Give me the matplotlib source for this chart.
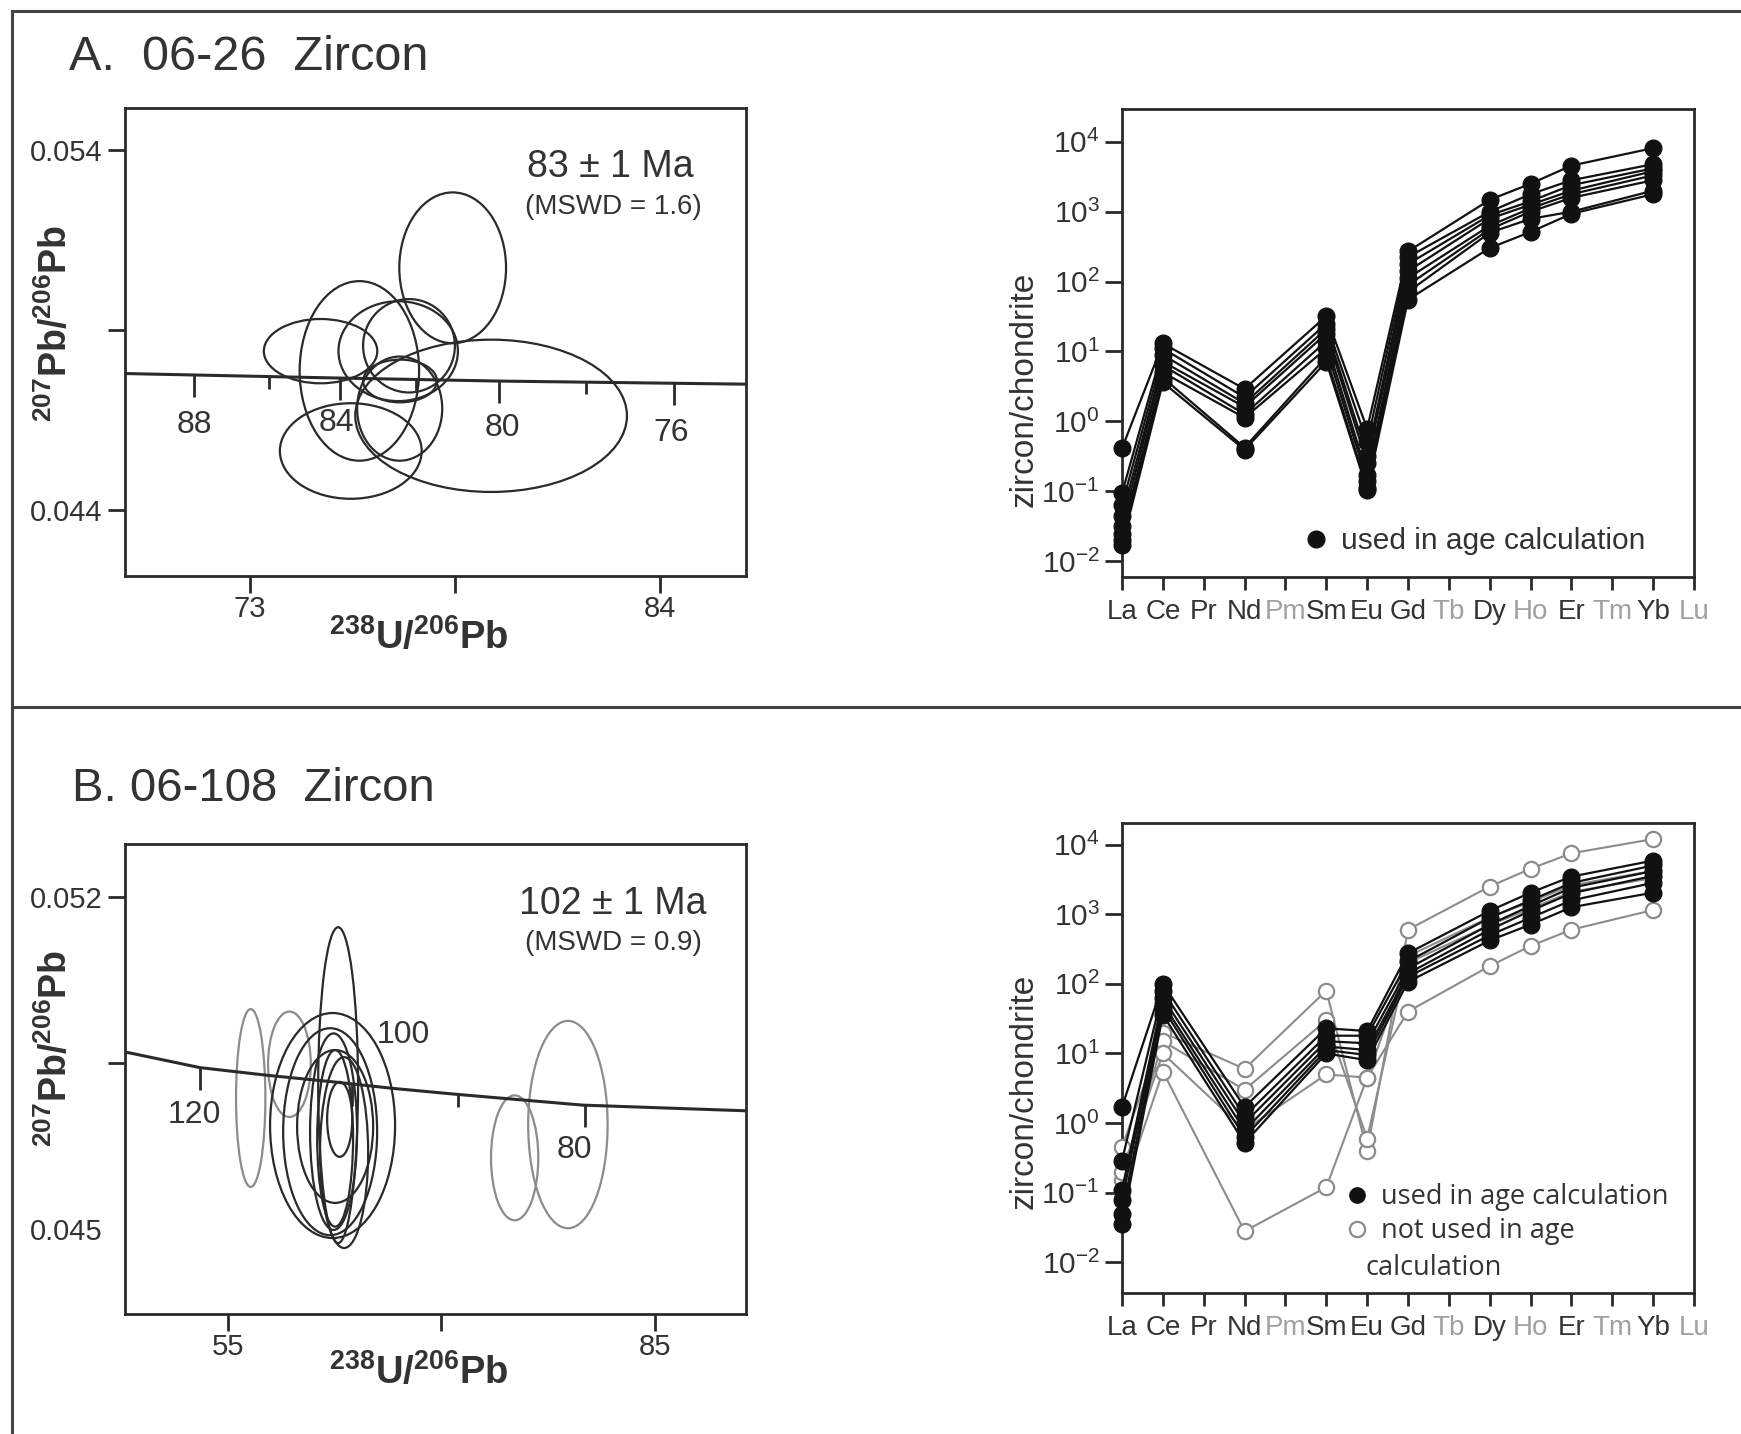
import matplotlib.pyplot as plt
from matplotlib.patches import Ellipse
from matplotlib.lines import Line2D

plt.rcParams['font.family'] = ['Liberation Sans', 'DejaVu Sans']
plt.rcParams['mathtext.fontset'] = 'custom'
plt.rcParams['mathtext.rm'] = 'Liberation Sans'
plt.rcParams['mathtext.bf'] = 'Liberation Sans:bold'
plt.rcParams['mathtext.it'] = 'Liberation Sans:italic'

# ---------------- data ----------------
# panel A, 06-26 : Tera-Wasserburg ellipses (centre, half-widths)
a_ell_x = [78.44, 74.90, 75.94, 76.98, 77.27, 79.47, 75.71, 77.02, 77.03]
a_ell_y = [0.05073, 0.04841, 0.04786, 0.04841, 0.04856, 0.04661, 0.04563, 0.04681, 0.04758]
a_ell_sx = [1.43, 1.52, 1.60, 1.60, 1.23, 3.64, 1.90, 1.14, 0.99]
a_ell_sy = [0.0021, 0.000895, 0.0025, 0.00139, 0.0013, 0.00212, 0.00133, 0.00145, 0.000595]
a_conc_x = [69.66, 75.23, 79.69, 86.3]
a_conc_y = [0.047787, 0.047665, 0.047577, 0.047491]
a_tick_age = [88, 86, 84, 82, 80, 78, 76]
a_tick_x = [71.51, 73.52, 75.41, 77.46, 79.69, 82.0, 84.38]
a_tick_y = [0.047746, 0.0477, 0.047661, 0.04762, 0.047577, 0.047547, 0.047516]
a_tick_major = [True, False, True, False, True, False, True]

# panel B, 06-108
b_used_x = [62.76, 62.37, 62.20, 62.55, 62.44, 63.18, 62.87, 62.55]
b_used_y = [0.04803, 0.04718, 0.04705, 0.04716, 0.04705, 0.04661, 0.04731, 0.04691]
b_used_sx = [1.40, 4.39, 3.30, 2.67, 1.65, 1.69, 0.88, 1.26]
b_used_sy = [0.003327, 0.00237, 0.00218, 0.00161, 0.00207, 0.00201, 0.00079, 0.00186]
b_rej_x = [56.62, 59.34, 75.16, 78.90]
b_rej_y = [0.04776, 0.04847, 0.04650, 0.04720]
b_rej_sx = [1.03, 1.50, 1.66, 2.79]
b_rej_sy = [0.001873, 0.00111, 0.001316, 0.002184]
b_conc_x = [47.79, 53.05, 57.72, 62.40, 66.69, 70.97, 79.93, 91.43]
b_conc_y = [0.04873, 0.04840, 0.04824, 0.04810, 0.04796, 0.04784, 0.04761, 0.04749]
b_tick_age = [120, 100, 90, 80]
b_tick_x = [53.05, 63.7, 71.17, 80.13]
b_tick_y = [0.0484, 0.04806, 0.04783, 0.04761]
b_tick_major = [True, True, False, True]

# REE patterns (chondrite normalised)
elements = ['La', 'Ce', 'Pr', 'Nd', 'Pm', 'Sm', 'Eu', 'Gd', 'Tb', 'Dy', 'Ho', 'Er', 'Tm', 'Yb', 'Lu']
faint = ['Pm', 'Tb', 'Ho', 'Tm', 'Lu']
measured = ['La', 'Ce', 'Nd', 'Sm', 'Eu', 'Gd', 'Dy', 'Ho', 'Er', 'Yb']

ree_a = [
    [0.41, 13, 2.9, 32, 0.78, 270, 1480, 2510, 4570, 8130],
    [0.093, 11, 2.2, 25, 0.5, 224, 1000, 1780, 2820, 4790],
    [0.063, 8.9, 1.8, 21, 0.32, 178, 890, 1410, 2400, 4170],
    [0.044, 7.1, 1.6, 18, 0.25, 141, 794, 1260, 2000, 3800],
    [0.032, 6.3, 1.26, 14, 0.17, 112, 630, 1120, 1780, 3310],
    [0.024, 5.0, 1.12, 11, 0.14, 89, 560, 1000, 1580, 2820],
    [0.02, 4.2, 0.42, 8.3, 0.11, 71, 500, 790, 1000, 2000],
    [0.017, 3.6, 0.39, 7.1, 0.105, 55, 302, 513, 933, 1780],
]
ree_b_used = [
    [1.7, 100, 1.7, 23, 21, 275, 1120, 2040, 3470, 5890],
    [0.29, 79, 1.26, 18, 18, 210, 890, 1580, 2820, 5010],
    [0.11, 63, 1.0, 15, 14, 166, 710, 1320, 2400, 4170],
    [0.079, 52, 0.79, 12.6, 11.2, 141, 600, 1120, 2000, 3550],
    [0.05, 45, 0.63, 11.2, 9.5, 126, 500, 890, 1580, 2820],
    [0.035, 36, 0.52, 10, 8, 107, 420, 710, 1260, 2040],
]
ree_b_rej = [
    [0.45, 20, 6, 80, 0.4, 600, 2500, 4500, 7500, 12000],
    [0.1, 5.5, 0.028, 0.12, 4.5, 40, 180, 350, 600, 1150],
    [0.15, 15, 3, 30, 0.6, 250, 900, 1500, 2600, 4200],
    [0.2, 10, 0.8, 5, 4.5, 200, 700, 1200, 2100, 3300],
]

# ---------------- figure ----------------
W, H = 1741, 1434
fig = plt.figure(figsize=(W / 100, H / 100), dpi=100)
dark = '#2a2a2a'
grey = '#8c8c8c'
txt = '#333333'


def px_axes(l, t, r, b):
    return fig.add_axes([l / W, 1 - b / H, (r - l) / W, (b - t) / H])


def frame(ax):
    for s in ax.spines.values():
        s.set_linewidth(2)
        s.set_color(dark)


def conc_panel(ax, ex, ey, esx, esy, ecol, cx, cy, tx, ty, tmaj, labels):
    for x, y, sx, sy, c in zip(ex, ey, esx, esy, ecol):
        ax.add_patch(Ellipse((x, y), 2 * sx, 2 * sy, fill=False, ec=c, lw=1.6))
    ax.plot(cx, cy, color=dark, lw=2.2)
    for x, y, m in zip(tx, ty, tmaj):
        ax.plot([x], [y], ls='none', marker=3, ms=16 if m else 8.5, mew=2, color=dark)
    for age, x, y, off in labels:
        ax.annotate(str(age), (x, y), xytext=off, textcoords='offset points',
                    ha='center', va='center', fontsize=23, color=txt)
    frame(ax)
    ax.tick_params(length=12, width=2, color=dark, labelsize=21, labelcolor=txt)
    ax.tick_params(axis='y', pad=4)
    ax.tick_params(axis='x', pad=2)
    ax.set_xlabel(r'$\mathbf{^{238}U/^{206}Pb}$', fontsize=27.5, color=txt, va='center')
    ax.set_ylabel(r'$\mathbf{^{207}Pb/^{206}Pb}$', fontsize=27, color=txt, va='center')


# ---- A left
axA = px_axes(125, 108, 746, 576)
labs = [(a_tick_age[0], a_tick_x[0], a_tick_y[0], (0, -36)),
        (a_tick_age[2], a_tick_x[2], a_tick_y[2], (-2, -32)),
        (a_tick_age[4], a_tick_x[4], a_tick_y[4], (2, -34)),
        (a_tick_age[6], a_tick_x[6], a_tick_y[6], (-2, -36))]
conc_panel(axA, a_ell_x, a_ell_y, a_ell_sx, a_ell_sy, [dark] * len(a_ell_x),
           a_conc_x, a_conc_y, a_tick_x, a_tick_y, a_tick_major, labs)
axA.set_xlim(69.66, 86.3)
axA.set_ylim(0.04215, 0.05518)
axA.set_xticks([73, 78.5, 84], ['73', '', '84'])
axA.set_yticks([0.054, 0.049, 0.044], ['0.054', '', '0.044'])
axA.xaxis.set_label_coords(0.473, -0.132)
axA.yaxis.set_label_coords(-0.112, 0.54)
axA.text(0.781, 0.874, '83 ± 1 Ma', transform=axA.transAxes, ha='center', va='center',
         fontsize=27, color=txt)
axA.text(0.786, 0.788, '(MSWD = 1.6)', transform=axA.transAxes, ha='center', va='center',
         fontsize=20, color=txt)

# ---- B left
axB = px_axes(125, 844, 746, 1314)
labs = [(b_tick_age[0], b_tick_x[0], b_tick_y[0], (-4, -34)),
        (b_tick_age[1], b_tick_x[1], b_tick_y[1], (37, 35)),
        (b_tick_age[3], b_tick_x[3], b_tick_y[3], (-8, -32))]
conc_panel(axB, b_rej_x + b_used_x, b_rej_y + b_used_y, b_rej_sx + b_used_sx,
           b_rej_sy + b_used_sy, [grey] * len(b_rej_x) + [dark] * len(b_used_x),
           b_conc_x, b_conc_y, b_tick_x, b_tick_y, b_tick_major, labs)
axB.set_xlim(47.79, 91.41)
axB.set_ylim(0.04321, 0.05311)
axB.set_xticks([55, 70, 85], ['55', '', '85'])
axB.set_yticks([0.052, 0.0485, 0.045], ['0.052', '', '0.045'])
axB.yaxis.get_major_ticks()[2].tick1line.set_visible(False)
axB.xaxis.set_label_coords(0.473, -0.125)
axB.yaxis.set_label_coords(-0.112, 0.565)
axB.text(0.786, 0.873, '102 ± 1 Ma', transform=axB.transAxes, ha='center', va='center',
         fontsize=27, color=txt)
axB.text(0.786, 0.789, '(MSWD = 0.9)', transform=axB.transAxes, ha='center', va='center',
         fontsize=20, color=txt)

# ---- REE panels
ree_x = [elements.index(e) for e in measured]


def ree_axes(ax, lo, hi, label_y):
    ax.set_yscale('log')
    ax.set_xlim(0, len(elements) - 1)
    ax.set_ylim(lo, hi)
    ax.set_xticks(range(len(elements)), elements)
    for lbl, el in zip(ax.get_xticklabels(), elements):
        lbl.set_color('#a0a0a0' if el in faint else txt)
    yt = [1e-2, 1e-1, 1e0, 1e1, 1e2, 1e3, 1e4]
    ax.set_yticks(yt, [r'$\mathregular{10^{%d}}$' % p for p in range(-2, 5)])
    ax.minorticks_off()
    ax.tick_params(axis='y', length=12, width=2, color=dark, labelsize=21.5, labelcolor=txt, pad=4)
    ax.tick_params(axis='x', length=9, width=2, color=dark, labelsize=20, pad=7)
    frame(ax)
    ax.set_ylabel('zircon/chondrite', fontsize=24, color=txt, va='center')
    ax.yaxis.set_label_coords(-0.171, label_y)


axAr = px_axes(1122, 109, 1694, 577)
for s in ree_a:
    axAr.plot(ree_x, s, color='#111111', lw=1.6, marker='o', ms=12, clip_on=False, zorder=3)
ree_axes(axAr, 10 ** -2.23, 10 ** 4.47, 0.40)
axAr.legend([Line2D([], [], ls='none', marker='o', color='#111111', ms=12)],
            ['used in age calculation'], loc='center left', bbox_to_anchor=(0.287, 0.077),
            frameon=False, borderpad=0, handlelength=1, handletextpad=0.35,
            prop={'size': 21.5}, labelcolor=txt)

axBr = px_axes(1122, 823, 1694, 1293)
for s in ree_b_rej:
    axBr.plot(ree_x, s, color=grey, lw=1.5, marker='o', ms=11, mfc='white', mec=grey,
              mew=1.6, clip_on=False, zorder=3)
for s in ree_b_used:
    axBr.plot(ree_x, s, color='#111111', lw=1.6, marker='o', ms=12, clip_on=False, zorder=4)
ree_axes(axBr, 10 ** -2.44, 10 ** 4.31, 0.43)
leg_font = {'family': 'Open Sans', 'size': 19.5}
axBr.legend([Line2D([], [], ls='none', marker='o', color='#111111', ms=11),
             Line2D([], [], ls='none', marker='o', mfc='white', mec=grey, mew=1.6, ms=11)],
            ['used in age calculation', 'not used in age'], loc='upper left',
            bbox_to_anchor=(0.364, 0.262), frameon=False, borderpad=0, handlelength=1,
            handletextpad=0.38, labelspacing=0.22, prop=leg_font, labelcolor=txt)
axBr.text(0.4255, 0.053, 'calculation', transform=axBr.transAxes, va='center', ha='left',
          fontfamily='Open Sans', fontsize=19.5, color=txt)

# ---- titles and outer frame
fig.text(69 / W, 1 - 58 / H, 'A.  06-26  Zircon', fontsize=35, va='center', color=txt)
fig.text(72 / W, 1 - 789 / H, 'B. 06-108  Zircon', fontsize=34, va='center', color=txt)
for xs, ys in [([12 / W, 1], [1 - 11 / H, 1 - 11 / H]),
               ([12 / W, 12 / W], [0, 1 - 11 / H]),
               ([12 / W, 1], [1 - 707 / H, 1 - 707 / H])]:
    fig.add_artist(Line2D(xs, ys, transform=fig.transFigure, color='#444444', lw=2.2))

fig.savefig('out.png', dpi=100)
